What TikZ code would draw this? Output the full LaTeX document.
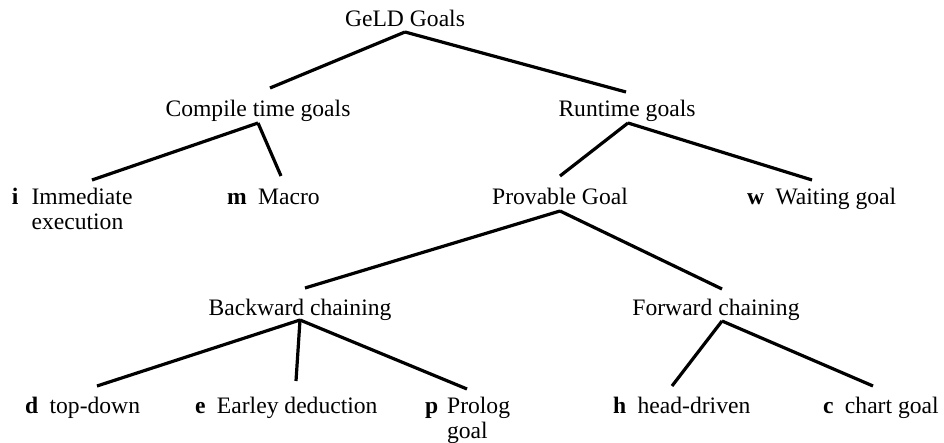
\documentclass[tikz,border=0pt]{standalone}
\usepackage{fontspec}
\setmainfont{Liberation Serif}
\usetikzlibrary{calc}
\newcommand{\twoline}[2]{\begin{tabular}[t]{@{}l@{}}#1\\#2\end{tabular}}
\begin{document}
\begin{tikzpicture}[x=1pt,y=-1pt,
  every node/.style={inner sep=0pt, outer sep=0pt, font=\fontsize{23.6}{25}\selectfont},
  ctr/.style={anchor=base},
  leaf/.style={anchor=base west},
  edge/.style={line width=3.2pt, line cap=butt}]
\useasboundingbox (0,0) rectangle (944,443);
% nodes
\node[ctr] (geld) at (405,27) {GeLD Goals};
\node[ctr] (comp) at (258,117) {Compile time goals};
\node[ctr] (run) at (627,117) {Runtime goals};
\node[leaf] (imm) at (12,205) {\textbf{i}\hspace{13pt}\twoline{Immediate}{execution}};
\node[leaf] (mac) at (227,205) {\textbf{m}\hspace{11.5pt}Macro};
\node[ctr] (prov) at (560,205) {Provable Goal};
\node[leaf] (wait) at (747,205) {\textbf{w}\hspace{11.5pt}Waiting goal};
\node[ctr] (back) at (300,316) {Backward chaining};
\node[ctr] (fwd) at (716,316) {Forward chaining};
\node[leaf] (td) at (25,413) {\textbf{d}\hspace{11.5pt}top-down};
\node[leaf] (ear) at (195,413) {\textbf{e}\hspace{11.5pt}Earley deduction};
\node[leaf] (pro) at (425,413) {\textbf{p}\hspace{9pt}\twoline{Prolog}{goal}};
\node[leaf] (hd) at (613,413) {\textbf{h}\hspace{11.5pt}head-driven};
\node[leaf] (ch) at (823,413) {\textbf{c}\hspace{11.5pt}chart goal};
% connectors
\draw[edge] ($(geld.base)+(0,5)$) -- ($(comp.base)+(12,-29)$);
\draw[edge] ($(geld.base)+(0,5)$) -- ($(run.base)+(-1,-25)$);
\draw[edge] ($(comp.base)+(0,6)$) -- ($(imm.base west)+(80,-25)$);
\draw[edge] ($(comp.base)+(0,6)$) -- ($(mac.base west)+(54,-29)$);
\draw[edge] ($(run.base)+(1,6)$) -- ($(prov.base)+(0,-29)$);
\draw[edge] ($(run.base)+(1,6)$) -- ($(wait.base west)+(65,-25)$);
\draw[edge] ($(prov.base)+(0,6)$) -- ($(back.base)+(5,-28)$);
\draw[edge] ($(prov.base)+(0,6)$) -- ($(fwd.base)+(6,-27)$);
\draw[edge] ($(back.base)+(0,4)$) -- ($(td.base west)+(72,-27)$);
\draw[edge] ($(back.base)+(0,4)$) -- ($(ear.base west)+(101,-32)$);
\draw[edge] ($(back.base)+(0,4)$) -- ($(pro.base west)+(42,-24)$);
\draw[edge] ($(fwd.base)+(6,5)$) -- ($(hd.base west)+(59,-27)$);
\draw[edge] ($(fwd.base)+(6,5)$) -- ($(ch.base west)+(50,-27)$);
\end{tikzpicture}
\end{document}
